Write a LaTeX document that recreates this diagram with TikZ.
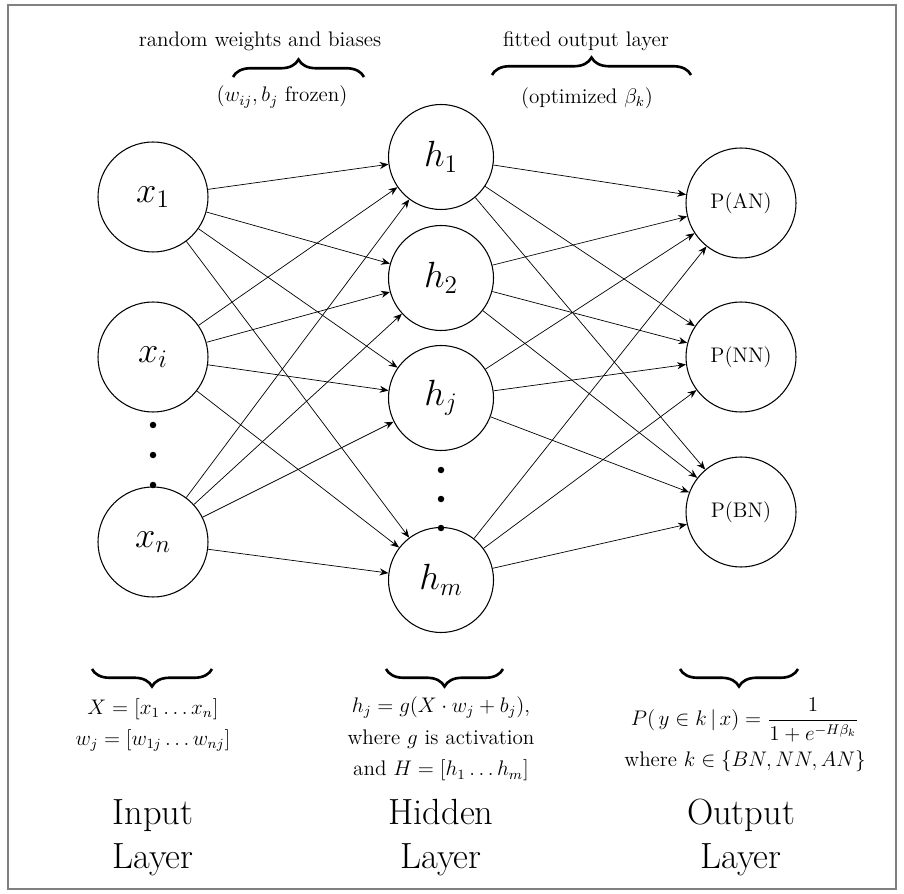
\documentclass[tikz,border=0pt]{standalone}
\usetikzlibrary{arrows.meta,decorations.pathreplacing,positioning}

\begin{document}
\begin{tikzpicture}[node distance= 3cm,
    bracepath/.style={decorate, decoration={brace, amplitude= 0.35cm}, line width= 1.5pt},
    txtnode/.style={font=\large, align=center}]
      \useasboundingbox (0,0) rectangle (18.08,-17.88);
      \draw [gray, line width= 1.3pt] (0.16,-0.1) rectangle (17.92,-17.78);
      \begin{scope}[every node/.style={circle,semithick,draw,minimum size= 2.2cm,font=\huge}]
        \node (x1) at (3.06,-3.94) {$x_1$};
        \node (xi) [below of= x1, node distance= 3.2cm] {$x_i$};
        \node (xn) [below of= xi, node distance= 3.7cm] {$x_n$};
        \node (h1) [minimum size= 2.1cm] at (8.82,-3.14) {$h_1$};
        \node (h2) [minimum size= 2.1cm, below of= h1, node distance= 2.42cm] {$h_2$};
        \node (hj) [minimum size= 2.1cm, below of= h2, node distance= 2.4cm] {$h_j$};
        \node (hm) [minimum size= 2.1cm, below of= hj, node distance= 3.64cm] {$h_m$};
        \node (AN) [font=\large] at (14.82,-4.06) {P(AN)};
        \node (NN) [font=\large, below of= AN, node distance= 3.08cm] {P(NN)};
        \node (BN) [font=\large, below of= NN, node distance= 3.1cm] {P(BN)};
      \end{scope}
      \begin{scope}[every node/.style={circle,fill,inner sep= 0pt,minimum size= 0.13cm}]
        \node (dx1) at (3.06,-8.5) {};
        \node (dx2) [below of= dx1, node distance= 0.6cm] {};
        \node (dx3) [below of= dx2, node distance= 0.6cm] {};
        \node (dh1) at (8.82,-9.4) {};
        \node (dh2) [below of= dh1, node distance= 0.58cm] {};
        \node (dh3) [below of= dh2, node distance= 0.58cm] {};
      \end{scope}
      \begin{scope}
        [every edge/.style={draw= black, thin, -{Stealth[length= 5pt, width= 4pt]}}]
        \path (x1) edge (h1);
        \path (x1) edge (h2);
        \path (x1) edge (hj);
        \path (x1) edge (hm);
        \path (xi) edge (h1);
        \path (xi) edge (h2);
        \path (xi) edge (hj);
        \path (xi) edge (hm);
        \path (xn) edge (h1);
        \path (xn) edge (h2);
        \path (xn) edge (hj);
        \path (xn) edge (hm);
        \path (h1) edge (AN);
        \path (h1) edge (NN);
        \path (h1) edge (BN);
        \path (h2) edge (AN);
        \path (h2) edge (NN);
        \path (h2) edge (BN);
        \path (hj) edge (AN);
        \path (hj) edge (NN);
        \path (hj) edge (BN);
        \path (hm) edge (AN);
        \path (hm) edge (NN);
        \path (hm) edge (BN);
      \end{scope}
      % braces over the weights
      \coordinate (tl1) at (4.66,-1.54);
      \coordinate (tr1) at (7.28,-1.54);
      \coordinate (tl2) at (9.84,-1.5);
      \coordinate (tr2) at (13.82,-1.5);
      \draw [bracepath] (tl1) -- (tr1);
      \draw [bracepath] (tl2) -- (tr2);
      \node (rwb) [txtnode] at (5.2,-0.82) {random weights and biases};
      \node (frz) [txtnode] at (5.64,-1.94) {($w_{ij}, b_j$ frozen)};
      \node (fol) [txtnode] at (11.72,-0.82) {fitted output layer};
      \node (opt) [txtnode] at (11.74,-1.96) {(optimized $\beta_k$)};
      % braces under the layers
      \coordinate (bl1) at (1.84,-13.38);
      \coordinate (br1) at (4.24,-13.38);
      \coordinate (bl2) at (7.72,-13.38);
      \coordinate (br2) at (10.06,-13.38);
      \coordinate (bl3) at (13.6,-13.38);
      \coordinate (br3) at (15.96,-13.38);
      \draw [bracepath] (br1) -- (bl1);
      \draw [bracepath] (br2) -- (bl2);
      \draw [bracepath] (br3) -- (bl3);
      \node (inf) [txtnode] at (3.06,-14.5)
        {$X = [x_1 \ldots x_n]$\\[4pt] $w_j = [w_{1j} \ldots w_{nj}]$};
      \node (hdf) [txtnode] at (8.82,-14.78)
        {$h_j = g(X \cdot w_j + b_j)$,\\[4pt] where $g$ is activation\\[4pt] and $H = [h_1 \ldots h_m]$};
      \node (otf) [txtnode] at (14.9,-14.7)
        {$\displaystyle P(\,y \in k \,|\, x) = \frac{1}{1 + e^{-H\beta_k}}$\\[4pt] where $k \in \{BN, NN, AN\}$};
      \node (inl) [font=\huge, align=center] at (3.06,-16.75) {Input\\ Layer};
      \node (hdl) [font=\huge, align=center] at (8.82,-16.75) {Hidden\\ Layer};
      \node (otl) [font=\huge, align=center] at (14.82,-16.75) {Output\\ Layer};
    \end{tikzpicture}
\end{document}
